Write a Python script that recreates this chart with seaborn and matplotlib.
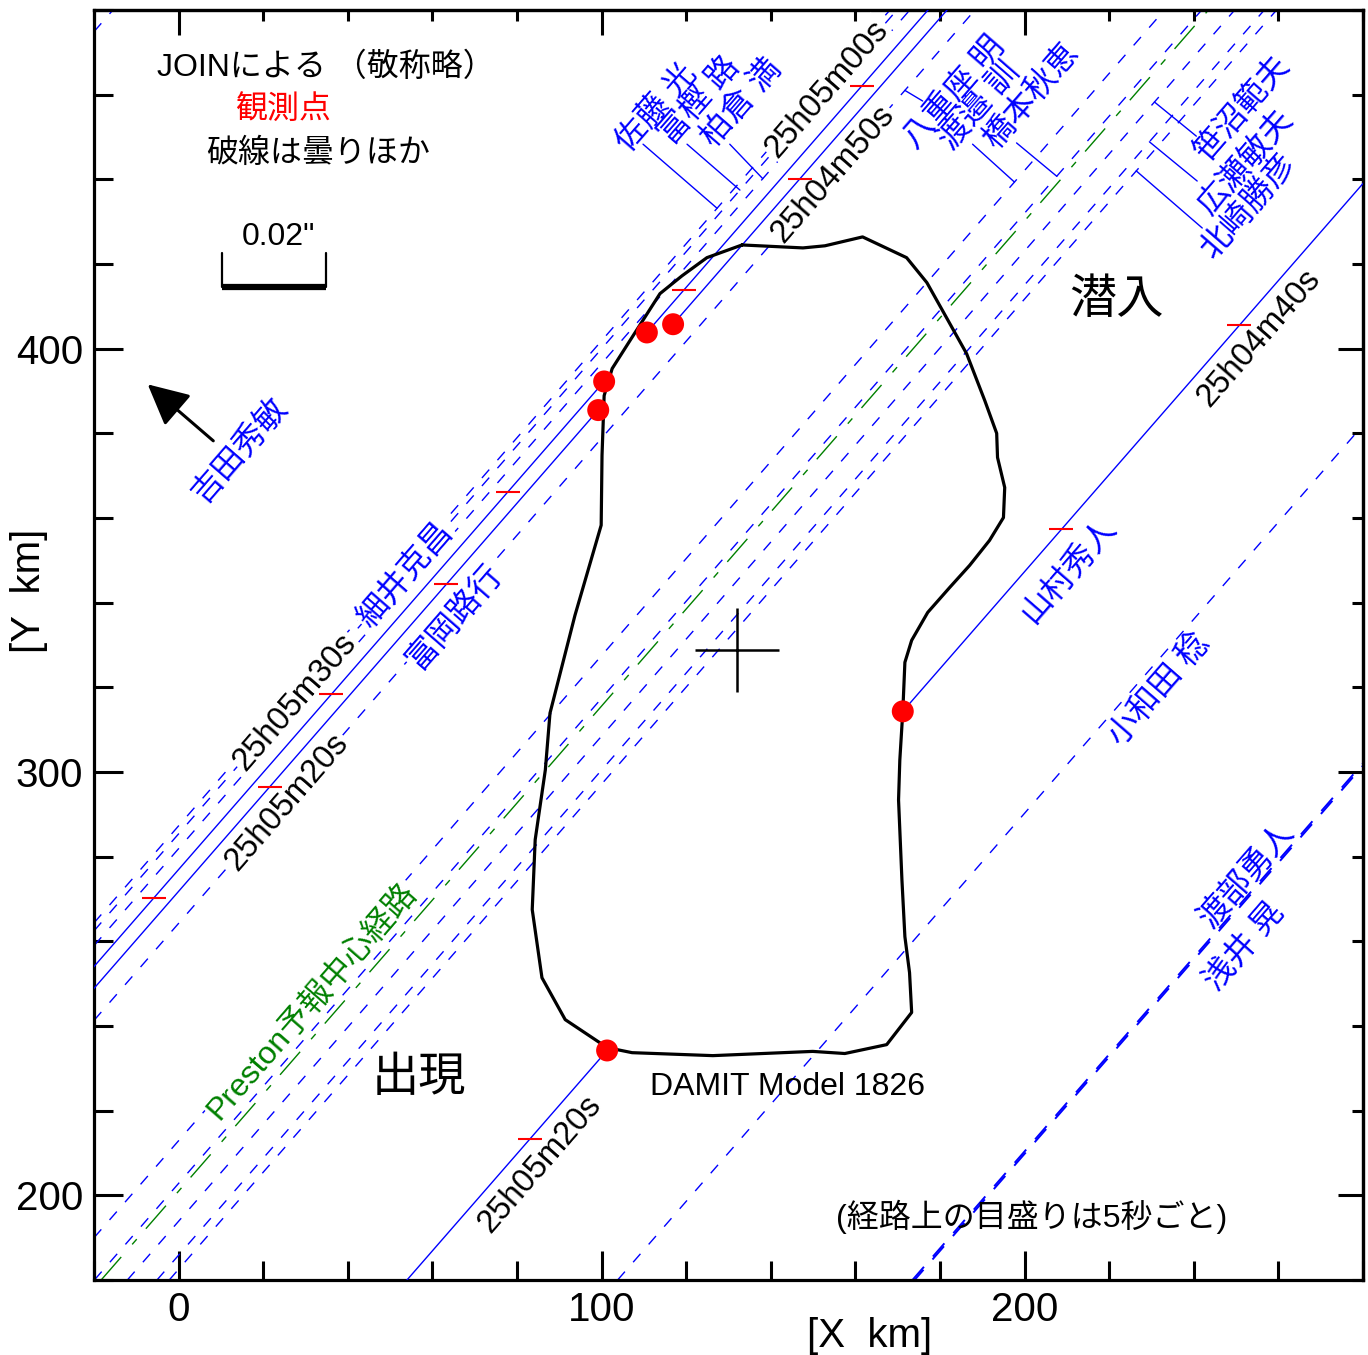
import numpy as np
import pandas as pd
import matplotlib
matplotlib.use("Agg")
import matplotlib.pyplot as plt
from matplotlib.ticker import MultipleLocator, FixedLocator
import seaborn as sns

sns.set_theme(style="white")
plt.rcParams["font.family"] = ["Liberation Sans", "Noto Sans CJK JP"]
plt.rcParams["axes.unicode_minus"] = False
plt.rcParams["text.color"] = "black"
plt.rcParams["axes.labelcolor"] = "black"
plt.rcParams["xtick.color"] = "black"
plt.rcParams["ytick.color"] = "black"

# ---------------------------------------------------------------- data
# direction of the shadow path (dY/dX); every chord is parallel to it
PATH_SLOPE = 1.146
REF_Y = 300.0          # chords are indexed by the X where they cross Y = 300 km

# negative / clouded chords (dashed): observer -> X at Y = 300
neg_names = ["吉田秀敏", "佐藤 光", "富樫 路", "柏倉 満", "八重座 明", "渡邉 訓",
             "橋本秋恵", "笹沼範夫", "広瀬敏夫", "北崎勝彦", "小和田 稔",
             "渡部勇人", "浅井 晃"]
neg_x0 = [-172.6, 11.1, 12.75, 15.8, 31.2, 76.0,
          84.8, 92.6, 99.6, 102.5, 208.5,
          278.2, 278.7]

# Preston predicted centre line
preston_x0 = 86.4

# positive chords (solid): hidden between reappearance and disappearance
pos_names = ["細井克昌", "富岡路行", "山村秀人"]
pos_x0 = [20.1, 24.6, 158.7]
disappear_x = [110.7, 116.9, 171.2]
reappear_x = [100.6, 99.2, 101.3]
# time marks along each positive chord (X, km)
marks_x = [[161.5, 119.5, 77.9, 36.1, -5.9],
           [146.9, 63.3, 21.5],
           [250.8, 208.7, 83.1]]

# DAMIT model 1826 silhouette
outline_x = [133.2, 147.6, 152.8, 161.7, 172.1, 176.9, 180.6, 186.3, 190.6, 193.4,
             193.6, 195.3, 195.0, 191.7, 187.0, 182.3, 177.1, 173.3, 171.7, 171.2,
             170.5, 170.2, 171.0, 171.7, 172.8, 173.3, 167.4, 157.5, 149.9, 126.3,
             107.2, 101.3, 91.4, 85.9, 83.6, 84.3, 86.7, 87.8, 93.7, 99.9,
             100.1, 100.6, 102.5, 106.7, 113.8, 119.0, 124.9, 133.2]
outline_y = [424.5, 423.8, 424.3, 426.4, 421.5, 415.6, 409.0, 398.8, 387.7, 380.0,
             374.3, 367.2, 360.1, 354.7, 348.8, 343.6, 337.7, 331.1, 325.9, 314.2,
             302.8, 293.4, 274.5, 261.1, 252.6, 243.2, 235.6, 233.5, 234.0, 233.0,
             233.7, 234.9, 241.5, 251.4, 267.5, 284.0, 300.5, 313.9, 337.0, 358.3,
             374.8, 388.9, 395.3, 401.9, 413.0, 417.2, 421.5, 424.5]
centre_xy = (132.0, 328.8)

# observer labels along the chords
name_text = ["吉田秀敏", "佐藤 光", "富樫 路", "柏倉 満", "八重座 明", "渡邉 訓",
             "橋本秋恵", "笹沼範夫", "広瀬敏夫", "北崎勝彦", "細井克昌", "富岡路行",
             "山村秀人", "小和田 稔", "渡部勇人", "浅井 晃"]
name_x = [14.6, 113.1, 123.3, 133.2, 183.5, 189.4, 201.7, 251.5, 252.4, 253.1,
          53.6, 65.4, 210.6, 231.9, 252.7, 252.0]
name_y = [375.9, 456.8, 458.5, 458.0, 460.4, 457.3, 459.7, 456.6, 443.9, 433.7,
          346.5, 336.6, 347.6, 319.3, 275.7, 258.7]
name_boxed = ["細井克昌", "富岡路行"]

# leaders from chords to crowded labels: X on chord, label end (X, Y)
leader_names = ["佐藤 光", "富樫 路", "柏倉 満", "八重座 明", "渡邉 訓", "橋本秋恵",
                "笹沼範夫", "広瀬敏夫", "北崎勝彦"]
leader_chord_x = [127.3, 132.7, 138.1, 171.7, 197.6, 207.6, 230.7, 229.5, 226.4]
leader_end_x = [109.8, 120.2, 130.3, 175.9, 187.7, 198.1, 240.6, 240.8, 242.0]
leader_end_y = [448.3, 448.3, 448.3, 458.5, 448.3, 448.6, 450.2, 439.6, 428.5]

# time labels
time_text = ["25h05m00s", "25h04m50s", "25h05m30s", "25h05m20s", "25h04m40s", "25h05m20s"]
time_x = [153.2, 154.7, 27.6, 25.7, 255.5, 85.5]
time_y = [461.3, 441.3, 316.5, 292.9, 402.6, 207.3]

# scale bar (0.02 arcsec) and direction arrow
scale_x = [10.2, 34.9]
scale_y = 414.6
scale_cap = 422.6
arrow_tail = (8.7, 377.8)
arrow_head = (-7.8, 392.0)

BLUE = "#0000ff"
GREEN = "#008000"
RED = "#ff0000"


def chord_y(x, x0):
    return REF_Y + PATH_SLOPE * (np.asarray(x, dtype=float) - x0)


# ---------------------------------------------------------------- figure
fig = plt.figure(figsize=(13.68, 13.55), dpi=100)
ax = fig.add_axes([94 / 1368, 75 / 1355, 1269 / 1368, 1270 / 1355])
ax.set_xlim(-20, 280)
ax.set_ylim(180, 480)

# dashed chords
for nm, x0 in zip(neg_names, neg_x0):
    if nm == "浅井 晃":
        ls = (2, (9, 7))
        lw = 1.4
    elif nm == "渡部勇人":
        ls = (0, (9, 7))
        lw = 1.4
    else:
        ls = (0, (8, 9))
        lw = 1.0
    ax.axline((x0, REF_Y), slope=PATH_SLOPE, color=BLUE, lw=lw, linestyle=ls, zorder=1.5)

ax.axline((preston_x0, REF_Y), slope=PATH_SLOPE, color=GREEN, lw=1.0,
          linestyle=(0, (22, 12, 5, 10)), zorder=1.6)

# positive chords, interrupted while the star was hidden
for x0, xd, xr, mk in zip(pos_x0, disappear_x, reappear_x, marks_x):
    xa = np.array([-60.0, xr])
    xb = np.array([xd, 340.0])
    ax.plot(xa, chord_y(xa, x0), color=BLUE, lw=1.0, zorder=4)
    ax.plot(xb, chord_y(xb, x0), color=BLUE, lw=1.0, zorder=4)
    ax.plot(mk, chord_y(mk, x0), linestyle="none", marker="_", ms=17, mew=1.5,
            color=RED, zorder=4.5)

# silhouette
shape = pd.DataFrame({"x": outline_x, "y": outline_y})
sns.lineplot(data=shape, x="x", y="y", sort=False, estimator=None, color="black",
             lw=2.3, ax=ax, zorder=5)

# disappearance / reappearance points
events = pd.DataFrame({
    "x": disappear_x + reappear_x,
    "y": list(chord_y(disappear_x, np.array(pos_x0))) + list(chord_y(reappear_x, np.array(pos_x0))),
})
sns.scatterplot(data=events, x="x", y="y", color=RED, s=250, edgecolor="none",
                ax=ax, zorder=6)

# centre of the model
ax.plot([centre_xy[0]], [centre_xy[1]], marker="+", ms=60, mew=1.8, color="black", zorder=5)

# leaders
for nm, xc, xe, ye in zip(leader_names, leader_chord_x, leader_end_x, leader_end_y):
    x0 = neg_x0[neg_names.index(nm)]
    ax.plot([xc, xe], [float(chord_y(xc, x0)), ye], color=BLUE, lw=1.0, zorder=2)

# labels along chords
ROT = 49
box = dict(boxstyle="square,pad=0.05", fc="white", ec="none")
for t, x, y in zip(name_text, name_x, name_y):
    ax.text(x, y, t, color=BLUE, fontsize=23, rotation=ROT, rotation_mode="anchor",
            ha="center", va="center", zorder=3,
            bbox=box if t in name_boxed else None)
for t, x, y in zip(time_text, time_x, time_y):
    ax.text(x, y, t, color="black", fontsize=23.5, rotation=ROT, rotation_mode="anchor",
            ha="center", va="center", zorder=3, bbox=box)
ax.text(31.6, 245.8, "Preston予報中心経路", color=GREEN, fontsize=23, rotation=ROT,
        rotation_mode="anchor", ha="center", va="center", zorder=3, bbox=box)

# notes
ax.text(34.7, 466.3, "JOINによる （敬称略）", fontsize=23, color="black", ha="center", va="center")
ax.text(24.8, 456.1, "観測点", fontsize=23, color=RED, ha="center", va="center")
ax.text(33.1, 446.0, "破線は曇りほか", fontsize=23, color="black", ha="center", va="center")
ax.text(23.6, 426.4, '0.02"', fontsize=23, color="black", ha="center", va="center")
ax.text(221.7, 411.3, "潜入", fontsize=34, color="black", ha="center", va="center")
ax.text(56.7, 227.4, "出現", fontsize=34, color="black", ha="center", va="center")
ax.text(144.0, 225.7, "DAMIT Model 1826", fontsize=23, color="black", ha="center", va="center")
ax.text(201.7, 194.8, "(経路上の目盛りは5秒ごと)", fontsize=23, color="black",
        ha="center", va="center")

# scale bar
ax.plot(scale_x, [scale_y, scale_y], color="black", lw=4.5, solid_capstyle="butt")
for sx in scale_x:
    ax.plot([sx, sx], [scale_y, scale_cap], color="black", lw=1.6)

# direction arrow
ax.annotate("", xy=arrow_head, xytext=arrow_tail,
            arrowprops=dict(arrowstyle="-|>,head_length=0.9,head_width=0.45",
                            color="black", lw=2.2, mutation_scale=28))

# axes styling
ax.grid(False)
for sp in ax.spines.values():
    sp.set_linewidth(2.3)
    sp.set_color("black")
ax.xaxis.set_major_locator(FixedLocator([0, 100, 200]))
ax.yaxis.set_major_locator(FixedLocator([200, 300, 400]))
ax.xaxis.set_minor_locator(MultipleLocator(20))
ax.yaxis.set_minor_locator(MultipleLocator(20))
ax.tick_params(which="major", direction="in", length=21, width=2.2, labelsize=29,
               bottom=True, left=True, top=False, right=False, pad=8,
               colors="black", labelcolor="black")
ax.tick_params(which="minor", direction="in", length=14, width=2.2,
               bottom=True, left=True, top=False, right=False, colors="black")

secx = ax.secondary_xaxis("top")
secx.xaxis.set_major_locator(FixedLocator([0, 100, 200]))
secx.xaxis.set_minor_locator(MultipleLocator(20))
secx.tick_params(which="major", direction="in", length=18, width=2.2, labeltop=False,
                 colors="black")
secx.tick_params(which="minor", direction="in", length=8, width=2.2, colors="black")
secx.spines["top"].set_linewidth(2.3)
secx.spines["top"].set_color("black")
secy = ax.secondary_yaxis("right")
secy.yaxis.set_major_locator(FixedLocator([200, 300, 400]))
secy.yaxis.set_minor_locator(MultipleLocator(20))
secy.tick_params(which="major", direction="in", length=18, width=2.2, labelright=False,
                 colors="black")
secy.tick_params(which="minor", direction="in", length=8, width=2.2, colors="black")
secy.spines["right"].set_linewidth(2.3)
secy.spines["right"].set_color("black")

ax.set_xlabel("[X  km]", fontsize=29, color="black")
ax.set_ylabel("[Y  km]", fontsize=29, color="black")
ax.xaxis.set_label_coords(0.6115, -0.029)
ax.yaxis.set_label_coords(-0.036, 0.543)

fig.savefig("out.png", dpi=100, facecolor="white")
